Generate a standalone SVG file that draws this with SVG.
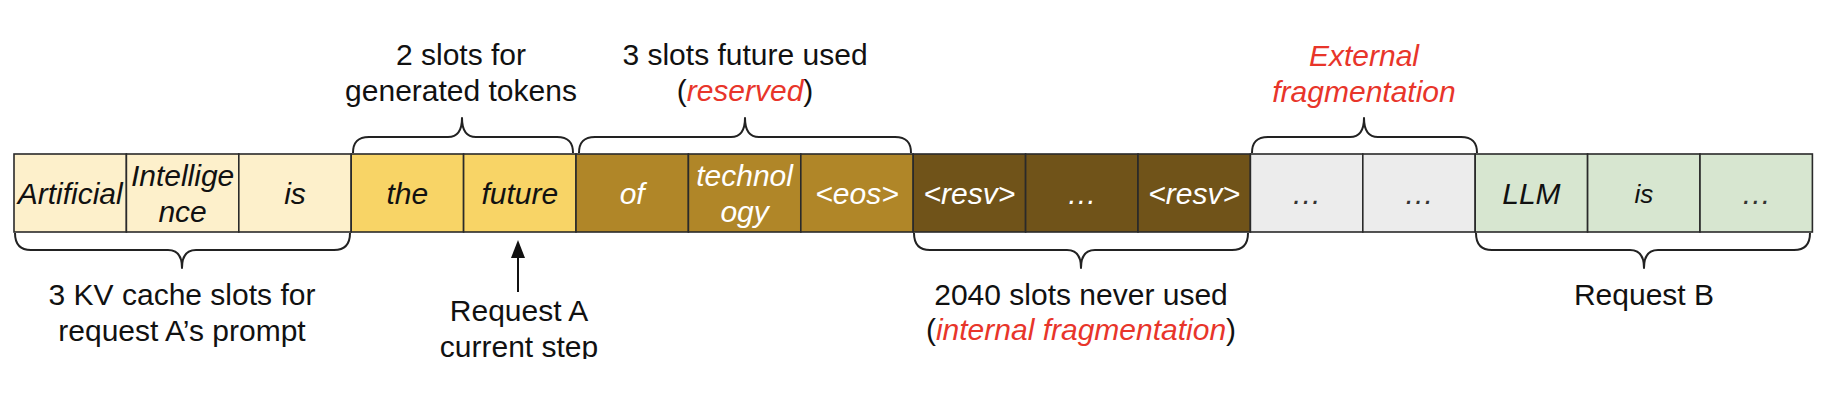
<svg xmlns="http://www.w3.org/2000/svg" width="1834" height="412" viewBox="0 0 1834 412">
  <style>
    .cell { stroke: #2a2a2a; stroke-width: 1.6; }
    .c1 { fill: #fdf0cb; }
    .c2 { fill: #f8d466; }
    .c3 { fill: #b08628; }
    .c4 { fill: #705319; }
    .c5 { fill: #ececec; }
    .c6 { fill: #d7e6d0; }
    .t { font-family: "Liberation Sans", Arial, sans-serif; font-size: 30px; text-anchor: middle; }
    .it { font-style: italic; }
    .dk { fill: #111; }
    .wh { fill: #ffffff; }
    .gr { fill: #333; }
    .red { fill: #e8352a; }
    .brace { fill: none; stroke: #222; stroke-width: 2; stroke-linejoin: round; }
    .arrow { stroke: #111; stroke-width: 2; }
  </style>
  <defs>
    <marker id="ah" markerWidth="18" markerHeight="14" refX="2" refY="7" orient="auto" markerUnits="userSpaceOnUse" viewBox="0 0 18 14">
      <path d="M0,0 L18,7 L0,14 Z" fill="#111"/>
    </marker>
    <clipPath id="clipBottom"><rect x="0" y="0" width="1834" height="359"/></clipPath>
  </defs>

  <g id="cells">
    <g id="cell-artificial"><rect class="cell c1" x="14" y="154" width="112.4" height="78"/><text class="t it dk" x="70.2" y="204">Artificial</text></g>
    <g id="cell-intelligence"><rect class="cell c1" x="126.4" y="154" width="112.4" height="78"/><text class="t it dk" x="182.6" y="186">Intellige</text><text class="t it dk" x="182.6" y="222">nce</text></g>
    <g id="cell-is"><rect class="cell c1" x="238.8" y="154" width="112.4" height="78"/><text class="t it dk" x="295" y="204">is</text></g>
    <g id="cell-the"><rect class="cell c2" x="351.2" y="154" width="112.4" height="78"/><text class="t it dk" x="407.4" y="204">the</text></g>
    <g id="cell-future"><rect class="cell c2" x="463.6" y="154" width="112.4" height="78"/><text class="t it dk" x="519.8" y="204">future</text></g>
    <g id="cell-of"><rect class="cell c3" x="576" y="154" width="112.4" height="78"/><text class="t it wh" x="632.2" y="204">of</text></g>
    <g id="cell-technology"><rect class="cell c3" x="688.4" y="154" width="112.4" height="78"/><text class="t it wh" x="744.6" y="186">technol</text><text class="t it wh" x="744.6" y="222">ogy</text></g>
    <g id="cell-eos"><rect class="cell c3" x="800.8" y="154" width="112.4" height="78"/><text class="t it wh" x="857" y="204">&lt;eos&gt;</text></g>
    <g id="cell-resv1"><rect class="cell c4" x="913.2" y="154" width="112.4" height="78"/><text class="t it wh" x="969.4" y="204">&lt;resv&gt;</text></g>
    <g id="cell-resv-dots"><rect class="cell c4" x="1025.6" y="154" width="112.4" height="78"/><text class="t it wh" x="1081.8" y="204">…</text></g>
    <g id="cell-resv2"><rect class="cell c4" x="1138" y="154" width="112.4" height="78"/><text class="t it wh" x="1194.2" y="204">&lt;resv&gt;</text></g>
    <g id="cell-free1"><rect class="cell c5" x="1250.4" y="154" width="112.4" height="78"/><text class="t it gr" x="1306.6" y="204">…</text></g>
    <g id="cell-free2"><rect class="cell c5" x="1362.8" y="154" width="112.4" height="78"/><text class="t it gr" x="1419" y="204">…</text></g>
    <g id="cell-llm"><rect class="cell c6" x="1475.2" y="154" width="112.4" height="78"/><text class="t it dk" x="1531.4" y="204">LLM</text></g>
    <g id="cell-b-is"><rect class="cell c6" x="1587.6" y="154" width="112.4" height="78"/><text class="t it dk" x="1643.8" y="203" style="font-size:26px">is</text></g>
    <g id="cell-b-dots"><rect class="cell c6" x="1700" y="154" width="112.4" height="78"/><text class="t it gr" x="1756.2" y="204">…</text></g>
  </g>

  <g id="connectors">
    <path class="brace" d="M353,153 C353,143 357,137 369,137 L448,137 C457,137 462,131 462,118 C462,131 467,137 476,137 L557,137 C569,137 573,143 573,153"/>
    <path class="brace" d="M579,153 C579,143 583,137 595,137 L731,137 C740,137 745,131 745,118 C745,131 750,137 759,137 L895,137 C907,137 911,143 911,153"/>
    <path class="brace" d="M1252,153 C1252,143 1256,137 1268,137 L1350,137 C1359,137 1364,131 1364,118 C1364,131 1369,137 1378,137 L1461,137 C1473,137 1477,143 1477,153"/>
    <path class="brace" d="M15,233 C15,243 19,250 31,250 L168,250 C177,250 182,256 182,268 C182,256 187,250 196,250 L334,250 C346,250 350,243 350,233"/>
    <path class="brace" d="M914,233 C914,243 918,250 930,250 L1067,250 C1076,250 1081,256 1081,268 C1081,256 1086,250 1095,250 L1232,250 C1244,250 1248,243 1248,233"/>
    <path class="brace" d="M1476,233 C1476,243 1480,250 1492,250 L1630,250 C1639,250 1644,256 1644,268 C1644,256 1649,250 1658,250 L1794,250 C1806,250 1810,243 1810,233"/>
    <line class="arrow" x1="518" y1="292" x2="518" y2="256" marker-end="url(#ah)"/>
  </g>

  <g id="label-generated">
    <text class="t dk" x="461" y="65">2 slots for</text>
    <text class="t dk" x="461" y="101">generated tokens</text>
  </g>
  <g id="label-reserved">
    <text class="t dk" x="745" y="65">3 slots future used</text>
    <text class="t dk" x="745" y="101">(<tspan class="it red">reserved</tspan>)</text>
  </g>
  <g id="label-external">
    <text class="t it red" x="1364" y="66">External</text>
    <text class="t it red" x="1364" y="102">fragmentation</text>
  </g>
  <g id="label-prompt">
    <text class="t dk" x="182" y="305">3 KV cache slots for</text>
    <text class="t dk" x="182" y="341">request A’s prompt</text>
  </g>
  <g id="label-current" clip-path="url(#clipBottom)">
    <text class="t dk" x="519" y="321">Request A</text>
    <text class="t dk" x="519" y="357">current step</text>
  </g>
  <g id="label-internal">
    <text class="t dk" x="1081" y="305">2040 slots never used</text>
    <text class="t dk" x="1081" y="340">(<tspan class="it red">internal fragmentation</tspan>)</text>
  </g>
  <g id="label-request-b">
    <text class="t dk" x="1644" y="305">Request B</text>
  </g>
</svg>
